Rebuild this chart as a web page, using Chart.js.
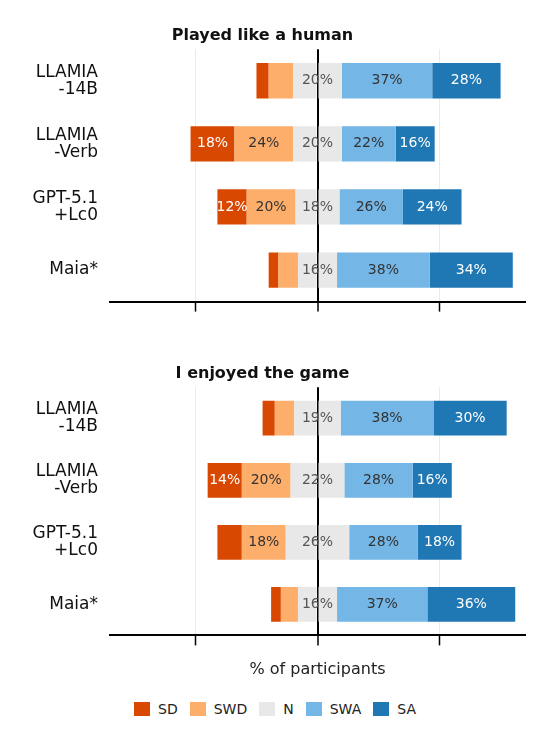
<!DOCTYPE html>
<html><head><meta charset="utf-8">
<script src="https://cdn.jsdelivr.net/npm/chart.js@4"></script>
<style>
body{margin:0;background:#fff;font-family:"DejaVu Sans";}
#c1w{position:absolute;left:0;top:0;width:550px;height:326px;}
#c2w{position:absolute;left:0;top:338px;width:550px;height:345px;}
#leg{position:absolute;left:0;top:701px;width:550px;text-align:center;font-size:14px;color:#222;font-family:"DejaVu Sans";}
#leg span.i{display:inline-block;margin:0 6px;}
#leg span.b{display:inline-block;width:16px;height:14px;vertical-align:-2px;margin-right:8px;}
</style></head><body>
<div id="c1w"><canvas id="c1"></canvas></div>
<div id="c2w"><canvas id="c2"></canvas></div>
<div id="leg"></div>
<script>
const categories=[["LLAMIA","-14B"],["LLAMIA","-Verb"],["GPT-5.1","+Lc0"],["Maia*"]];
const levels=["SD","SWD","N","SWA","SA"];
const colors=["#d94801","#fdae6b","#e8e8e8","#74b6e6","#1f77b4"];
const textColors=["#fff","#333","#555","#333","#fff"];
const title1="Played like a human", title2="I enjoyed the game";
const p1SD=[5,18,12,4], p1SWD=[10,24,20,8], p1N=[20,20,18,16], p1SWA=[37,22,26,38], p1SA=[28,16,24,34];
const p2SD=[5,14,10,4], p2SWD=[8,20,18,7], p2N=[19,22,26,16], p2SWA=[38,28,28,37], p2SA=[30,16,18,36];
const FF="'DejaVu Sans'";
Chart.defaults.font.family=FF;

const labelPlugin={id:'lbl',afterDatasetsDraw(ch){
  const ctx=ch.ctx;ctx.save();ctx.font="14px 'DejaVu Sans'";ctx.textAlign='center';ctx.textBaseline='middle';
  const raw=ch.config.options.rawData;
  ch.data.datasets.forEach((ds,di)=>{
    if(ds.lvl===undefined||ds.skipLabel)return;
    const meta=ch.getDatasetMeta(di);
    meta.data.forEach((el,i)=>{
      const v=raw[ds.lvl][i]; if(v<12)return;
      let x=(el.x+el.base)/2;
      if(ds.lvl===2)x=ch.scales.x.getPixelForValue(0);
      ctx.fillStyle=textColors[ds.lvl];ctx.fillText(v+'%',x,el.y);
    });
  });ctx.restore();}};

function make(id,title,SD,SWD,N,SWA,SA,showX){
  const half=N.map(v=>v/2);
  const ds=[
    {lvl:2,data:half.map(v=>-v),backgroundColor:colors[2],skipLabel:true},
    {lvl:1,data:SWD.map(v=>-v),backgroundColor:colors[1]},
    {lvl:0,data:SD.map(v=>-v),backgroundColor:colors[0]},
    {lvl:2,data:half,backgroundColor:colors[2]},
    {lvl:3,data:SWA,backgroundColor:colors[3]},
    {lvl:4,data:SA,backgroundColor:colors[4]},
  ];
  ds.forEach(d=>{d.barPercentage=0.56;d.categoryPercentage=1;d.borderWidth=0;});
  new Chart(document.getElementById(id),{type:'bar',data:{labels:categories,datasets:ds},
    plugins:[labelPlugin],
    options:{rawData:[SD,SWD,N,SWA,SA],indexAxis:'y',responsive:true,maintainAspectRatio:false,animation:false,
      layout:{padding:{right:25,top:14}},
      plugins:{legend:{display:false},tooltip:{enabled:false},
        title:{display:true,text:title,color:'#111',font:{family:FF,size:16,weight:'bold'},padding:{top:12,bottom:4}}},
      scales:{
        x:{stacked:true,min:-85,max:85,afterBuildTicks(s){s.ticks=[{value:-50},{value:0},{value:50}];},
          ticks:{callback:()=>'',padding:0},
          grid:{color:c=>c.tick&&c.tick.value===0?'#000':'#ebebeb',lineWidth:c=>c.tick&&c.tick.value===0?2:1,tickColor:'#000',tickLength:10,tickWidth:1.5},
          border:{display:true,color:'#000',width:2},
          title:{display:showX,text:'% of participants',color:'#222',font:{family:FF,size:16},padding:{top:0}}},
        y:{stacked:true,grid:{display:false},border:{display:false},
          ticks:{color:'#111',font:{family:FF,size:17,lineHeight:1.0},padding:4},
          afterFit(s){s.width=110;}}
      }}});
}
make('c1',title1,p1SD,p1SWD,p1N,p1SWA,p1SA,false);
make('c2',title2,p2SD,p2SWD,p2N,p2SWA,p2SA,true);
document.getElementById('leg').innerHTML=levels.map((l,i)=>`<span class="i"><span class="b" style="background:${colors[i]}"></span>${l}</span>`).join('');
</script></body></html>
